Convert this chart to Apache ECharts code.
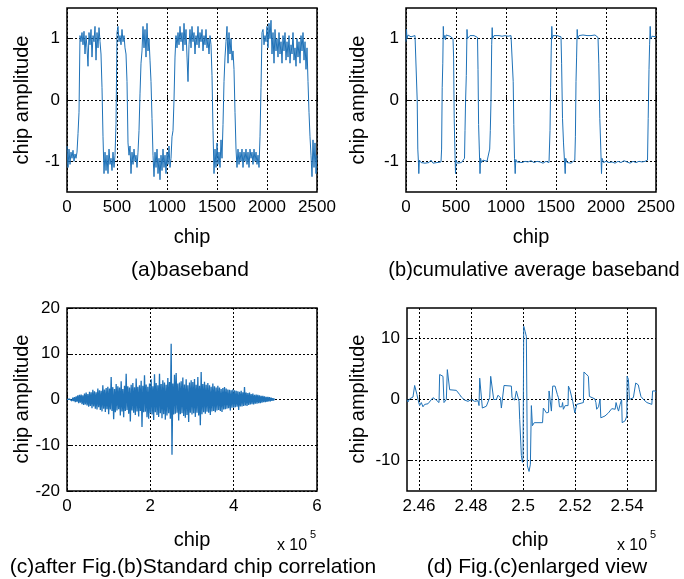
<!DOCTYPE html>
<html><head><meta charset="utf-8">
<script src="https://cdn.jsdelivr.net/npm/echarts@6/dist/echarts.min.js"></script>
<style>html,body{margin:0;padding:0;background:#fff}#c{width:684px;height:579px}</style>
</head><body><div id="c"></div>
<script>
const FONT = "'Liberation Sans', Arial, Helvetica, sans-serif";
const LINE = '#1f72b8';

// ---- (a) baseband: sample every 10 chips, x = index*10 ----
const aStep = 10;
const aY = [
 -0.75,-1.1,-0.8,-1.05,-0.85,-0.95,-0.82,-1.0,-0.88,-0.95,
 -0.85,-0.55,-0.2,1.05,0.95,1.1,0.9,1.12,0.75,1.05,
 0.85,0.55,1.1,0.9,1.15,0.7,1.05,0.95,1.2,0.65,
 1.1,0.85,1.18,0.95,0.75,0.2,-0.6,-1.2,-0.85,-1.15,
 -0.9,-1.2,-0.8,-1.05,-0.95,-1.15,-0.85,-1.1,-0.9,-0.4,
 1.1,1.2,0.95,1.05,0.9,1.15,0.95,1.05,0.85,0.75,
 0.3,-0.7,-0.9,-0.75,-1.2,-0.85,-1.05,-0.8,-1.0,-0.9,
 -1.1,-0.85,-0.5,0.1,0.6,0.8,1.2,0.85,1.15,0.7,
 1.25,0.8,1.0,0.65,0.3,-0.3,-0.9,-1.25,-0.85,-1.1,
 -0.8,-1.2,-0.95,-1.3,-0.9,-1.15,-0.8,-1.1,-0.9,-1.2,
 -0.85,-1.05,-0.75,-1.1,-0.95,-0.6,-0.5,0.0,0.7,1.05,
 0.85,1.1,0.9,1.2,0.95,1.1,0.8,1.25,0.9,1.15,
 0.7,0.3,0.9,1.15,0.85,1.2,0.95,1.1,0.75,1.05,
 0.9,1.2,0.85,1.1,0.95,1.15,0.8,1.05,0.9,1.15,
 0.85,1.0,0.75,1.05,0.9,0.4,-0.5,-1.2,-0.8,-1.1,
 -0.7,-1.05,-0.85,-1.1,-0.65,-0.95,-0.4,0.3,0.7,0.95,
 1.2,0.6,1.1,0.75,1.0,0.65,0.8,0.5,-0.2,-0.8,
 -1.1,-0.8,-1.05,-0.85,-1.0,-0.8,-1.1,-0.85,-1.0,-0.8,
 -1.05,-0.85,-1.1,-0.8,-0.95,-0.85,-1.05,-0.8,-1.0,-0.85,
 -1.05,-0.9,-1.1,-0.6,0.2,1.1,1.15,0.9,1.05,0.95,
 1.2,0.85,1.25,1.0,1.3,0.75,1.1,0.6,1.15,0.8,
 1.0,0.7,1.1,0.75,0.95,0.6,1.05,0.8,1.1,0.65,
 0.95,0.7,1.05,0.6,0.9,0.75,1.1,0.65,0.85,0.55,
 1.0,0.7,0.95,0.6,1.05,0.8,1.1,0.65,0.95,0.5,
 0.85,0.3,-0.2,-0.6,-0.9,-1.25,-0.65,-1.1,-0.7,-1.2,
 -0.9
];

// ---- (b) cumulative average baseband ----
const bX = [0,5,10,20,35,50,70,90,105,
 112,118,124,128,134,150,170,190,210,230,250,270,290,310,330,350,
 356,362,368,373,378,385,395,400,420,440,460,470,
 476,482,490,495,500,515,535,555,575,585,
 590,596,603,610,615,625,640,660,680,700,715,
 720,726,733,740,746,755,770,790,810,830,
 837,843,850,857,862,866,880,900,930,960,990,1020,1050,1068,
 1072,1078,1085,1092,1098,1110,1130,1160,1190,1220,1250,1280,1310,1340,1370,1400,1430,
 1440,1446,1452,1458,1463,1470,1490,1510,1530,1550,
 1556,1565,1575,1585,1592,1597,1610,1630,1650,1670,1688,
 1694,1700,1706,1712,1717,1730,1750,1770,1790,1810,1830,1850,1870,1890,1910,1920,
 1928,1938,1948,1955,1960,1975,2000,2030,2060,2090,2120,2150,2180,2210,2240,2270,2300,2330,2360,2390,2415,
 2422,2430,2436,2442,2447,2460,2480,2500];
const bY = [0.95,1.15,1.0,1.06,1.05,1.03,1.04,1.05,1.03,
 0.0,-0.8,-1.0,-1.2,-0.98,-1.02,-0.99,-1.03,-1.0,-1.02,-0.98,-1.03,-1.0,-1.02,-0.99,-1.01,
 -0.8,0.2,0.6,1.2,1.0,1.05,0.98,1.06,1.03,1.04,1.02,1.0,
 0.7,-0.3,-0.9,-1.2,-0.98,-1.03,-1.0,-1.02,-1.0,-0.95,
 -0.5,0.0,0.4,1.15,1.0,1.03,1.05,1.04,1.05,1.04,1.02,
 0.5,-0.4,-0.8,-1.2,-0.95,-1.02,-0.98,-1.01,-1.0,-1.0,
 -0.8,-0.5,0.0,0.9,1.18,1.0,1.05,1.04,1.05,1.04,1.05,1.04,1.05,1.02,
 0.3,-0.4,-0.95,-1.2,-0.97,-1.01,-1.0,-1.02,-1.0,-1.01,-0.99,-1.02,-1.0,-1.01,-1.03,-1.0,-1.02,
 -0.5,0.2,0.8,1.2,1.0,1.05,1.04,1.05,1.04,1.03,
 0.6,-0.3,-0.7,-1.0,-1.2,-0.95,-1.02,-1.0,-1.03,-1.0,-0.98,
 -0.6,0.3,0.7,1.15,1.0,1.05,1.03,1.06,1.04,1.05,1.03,1.05,1.04,1.06,1.04,1.02,
 0.6,-0.3,-0.8,-1.2,-0.95,-1.02,-1.0,-1.02,-1.01,-1.03,-1.0,-1.02,-0.99,-1.01,-1.03,-1.0,-1.02,-1.0,-1.01,-1.0,-0.98,
 -0.3,0.5,0.9,1.2,1.0,1.04,1.05,1.03];

// ---- (c) correlation output: one value every 2000 chips ----
const cStep = 2000;
const cY = [
 0,0.05,-0.05,0.1,-0.1,0.2,-0.3,0.4,-0.35,0.5,
 -0.6,0.7,-0.5,0.9,-0.8,1.0,-0.7,1.1,-1.0,0.9,
 -1.2,1.3,-1.1,1.5,-1.3,1.2,-1.6,1.7,-1.4,1.6,
 -1.9,2.1,-1.5,1.8,-2.0,1.6,-2.2,2.4,-1.7,2.0,
 -2.3,1.9,-2.6,3.1,-2.0,2.2,-2.7,2.5,-2.1,2.8,
 -3.2,2.4,-2.2,4.9,-2.5,2.7,-4.3,2.3,-2.8,3.4,
 -2.4,2.9,-2.1,2.6,-3.5,4.0,-2.6,2.3,-3.9,3.0,
 -2.5,5.6,-2.3,2.9,-3.1,2.6,-4.8,3.2,-2.4,3.6,
 -2.9,2.7,-3.4,4.6,-2.6,2.8,-3.7,3.1,-2.5,4.1,
 -6.0,3.0,-2.8,5.3,-2.7,3.3,-3.9,2.8,-4.2,3.5,
 -3.0,4.4,-3.3,2.9,-4.5,5.5,-2.8,3.6,-3.4,3.1,
 -3.8,5.6,-3.0,3.4,-4.1,4.2,-3.2,3.7,-4.4,3.2,
 -3.5,4.7,-3.0,3.8,-4.2,12.2,-12.1,3.5,-3.3,5.4,
 -3.1,5.8,-2.9,3.5,-4.6,3.7,-3.2,4.0,-3.0,4.8,
 -3.6,3.3,-4.0,4.4,-3.4,3.1,-4.9,3.7,-2.9,4.2,
 -3.3,3.8,-3.0,4.5,-3.8,3.2,-2.9,4.9,-3.5,3.0,
 -5.6,6.0,-3.2,3.4,-2.8,3.9,-3.1,3.2,-2.7,3.6,
 -2.9,3.1,-3.4,2.8,-2.6,3.5,-2.5,2.9,-2.8,2.6,
 -2.4,3.0,-2.3,2.6,-2.5,2.3,-2.7,2.5,-2.2,2.7,
 -2.1,2.4,-2.0,2.2,-1.9,2.1,-2.4,2.0,-1.8,2.2,
 -1.8,2.0,-1.7,1.9,-1.6,1.8,-2.3,1.7,-1.5,1.9,
 -1.5,1.6,-1.4,2.7,-1.3,1.5,-1.4,1.4,-1.2,1.5,
 -1.1,1.2,-1.0,1.3,-1.1,1.0,-0.9,1.1,-0.9,1.0,
 -0.8,0.9,-0.8,0.8,-0.7,0.8,-0.6,0.7,-0.6,0.6,
 -0.5,0.6,-0.4,0.5,-0.4,0.4,-0.3,0.3,-0.2,0.2,
 0
];

// ---- (d) enlarged view around chip 2.5e5 ----
const dX = [245540,245577,245641,245706,245770,245834,245898,245923,245962,246026,246090,246154,246218,246347,246411,246539,246667,246770,
 246795,246923,246962,247052,247090,247141,247180,247436,247565,247629,247757,247885,247949,248013,248141,248270,
 248308,248334,248398,248436,248590,248654,248718,248757,248821,248872,248975,249039,249129,249167,249231,249269,249551,249577,249680,249744,249808,249846,
 249872,249936,249975,250000,250026,250077,250128,250167,250231,250282,250320,
 250333,250360,250420,250430,250750,250780,250850,250900,250980,251000,251060,251090,251120,251140,251230,251270,251320,251360,251400,251490,251520,251550,251620,251730,
 251745,251800,251870,251910,251940,251990,252050,252065,252130,252320,252340,252420,252510,252550,252760,252800,252830,252900,252960,252990,253150,253280,253410,253470,253540,253575,253630,253670,253730,253790,
 253810,253920,253990,254000,254050,254090,254240,254300,254330,254430,254470,254530,254560,254630,254700,254760,254820,254950,254980,255080,255110];
const dY = [0.0,-0.4,0.1,-0.1,0.4,2.3,2.4,0.8,0.0,-1.0,-0.5,-1.2,-0.8,-0.7,-0.4,0.3,-0.1,-0.5,
 4.1,3.8,-0.5,0.0,4.9,4.9,1.6,1.5,0.8,0.4,-0.1,-0.3,-0.5,0.0,-0.3,-0.2,
 -1.0,3.5,3.3,-1.4,-1.1,-1.2,0.3,3.8,3.5,0.0,0.0,0.7,0.3,-1.4,-1.2,2.3,2.2,0.3,-0.1,1.4,1.6,-0.3,
 -3.3,-9.2,-10.3,-9.5,12.0,11.2,10.3,-10.9,-11.8,-10.6,-1.0,
 -1.0,-4.3,-4.3,-3.8,-3.8,-1.4,-1.4,-2.2,-2.1,1.4,1.6,-1.9,-1.9,2.2,2.2,1.9,0.8,0.3,-1.2,-1.2,-0.5,-1.6,-1.0,-1.0,
 2.2,1.6,1.4,-0.3,0.0,-2.2,-2.4,-0.8,-0.5,-0.5,4.5,4.2,3.8,0.5,0.1,-0.5,-1.6,-1.2,0.0,-3.0,-2.7,-2.2,-1.5,-1.2,-1.6,-0.5,-1.4,-1.9,-0.8,0.0,
 -3.8,-3.5,-2.7,3.8,3.3,0.0,0.3,0.3,2.7,2.4,1.6,0.5,0.3,0.0,-0.1,-0.5,-0.8,-0.8,1.4,1.4,1.2];

// ---- axes / ticks ----
const abYTicks = [-1, 0, 1];
const cXTicks = [0, 200000, 400000, 600000];
const cYTicks = [-20, -10, 0, 10, 20];
const dXTicks = [246000, 248000, 250000, 252000, 254000];
const dYTicks = [-10, 0, 10];

const grids = [
  {left:67, top:8, width:250, height:184},
  {left:406, top:8, width:250, height:184},
  {left:67, top:308, width:250, height:183},
  {left:407, top:308, width:249, height:183}
].map(g => Object.assign({show:true, borderColor:'#000', borderWidth:1.5, backgroundColor:'#fff'}, g));

function ax(gi, min, max, extra, fmt) {
  const o = {
    type:'value', gridIndex:gi, min:min, max:max,
    axisLine:{show:false},
    axisTick:{show:true, inside:true, length:5, lineStyle:{color:'#000', width:1}},
    axisLabel:{margin:7, fontSize:17, color:'#000', fontFamily:FONT, formatter: fmt || (v => String(v))},
    splitLine:{show:true, lineStyle:{type:[2,2], color:'#000', width:1}}
  };
  if (extra.interval) o.interval = extra.interval;
  if (extra.ticks) { o.axisTick.customValues = extra.ticks; o.axisLabel.customValues = extra.ticks; }
  return o;
}

const xAxes = [
  ax(0, 0, 2500, {interval:500}),
  ax(1, 0, 2500, {interval:500}),
  ax(2, 0, 600000, {ticks:cXTicks}, v => String(v/100000)),
  ax(3, 245540, 255110, {ticks:dXTicks}, v => String(+(v/100000).toFixed(2)))
];
const yAxes = [
  ax(0, -1.5, 1.5, {ticks:abYTicks}),
  ax(1, -1.5, 1.5, {ticks:abYTicks}),
  ax(2, -20, 20, {ticks:cYTicks}),
  ax(3, -15, 15, {ticks:dYTicks})
];

function lineSeries(i, data, w) {
  return {type:'line', xAxisIndex:i, yAxisIndex:i, data:data, symbol:'none', showSymbol:false,
    lineStyle:{width:w || 1, color:LINE}, itemStyle:{color:LINE}, animation:false, clip:true, z:3};
}

const series = [
  lineSeries(0, aY.map((v,i) => [i*aStep, v])),
  lineSeries(1, bX.map((x,i) => [x, bY[i]])),
  lineSeries(2, cY.map((v,i) => [i*cStep, v]), 1.3),
  lineSeries(3, dX.map((x,i) => [x, dY[i]]))
];

function txt(x, y, s, size, rot) {
  return {type:'text', x:x, y:y, rotation: rot ? Math.PI/2 : 0,
    style:{text:s, fontSize:size, fontFamily:FONT, fill:'#000', align:'center', verticalAlign:'middle'}};
}
const graphics = [
  txt(22, 100, 'chip amplitude', 20, true),
  txt(358, 100, 'chip amplitude', 20, true),
  txt(22, 399, 'chip amplitude', 20, true),
  txt(358, 399, 'chip amplitude', 20, true),
  txt(192, 237, 'chip', 20),
  txt(531, 237, 'chip', 20),
  txt(192, 540, 'chip', 20),
  txt(530, 540, 'chip', 20),
  txt(190, 270, '(a)baseband', 21),
  txt(534, 270, '(b)cumulative average baseband', 20),
  txt(193, 567, '(c)after Fig.(b)Standard chip correlation', 21),
  txt(537, 567, '(d) Fig.(c)enlarged view', 21),
  txt(292, 546, 'x 10', 16),
  txt(313, 535, '5', 11),
  txt(632, 546, 'x 10', 16),
  txt(653, 535, '5', 11)
];

const chart = echarts.init(document.getElementById('c'), null, {renderer:'canvas'});
chart.setOption({
  animation:false,
  textStyle:{fontFamily:FONT},
  grid:grids, xAxis:xAxes, yAxis:yAxes, series:series, graphic:graphics
});
</script></body></html>
